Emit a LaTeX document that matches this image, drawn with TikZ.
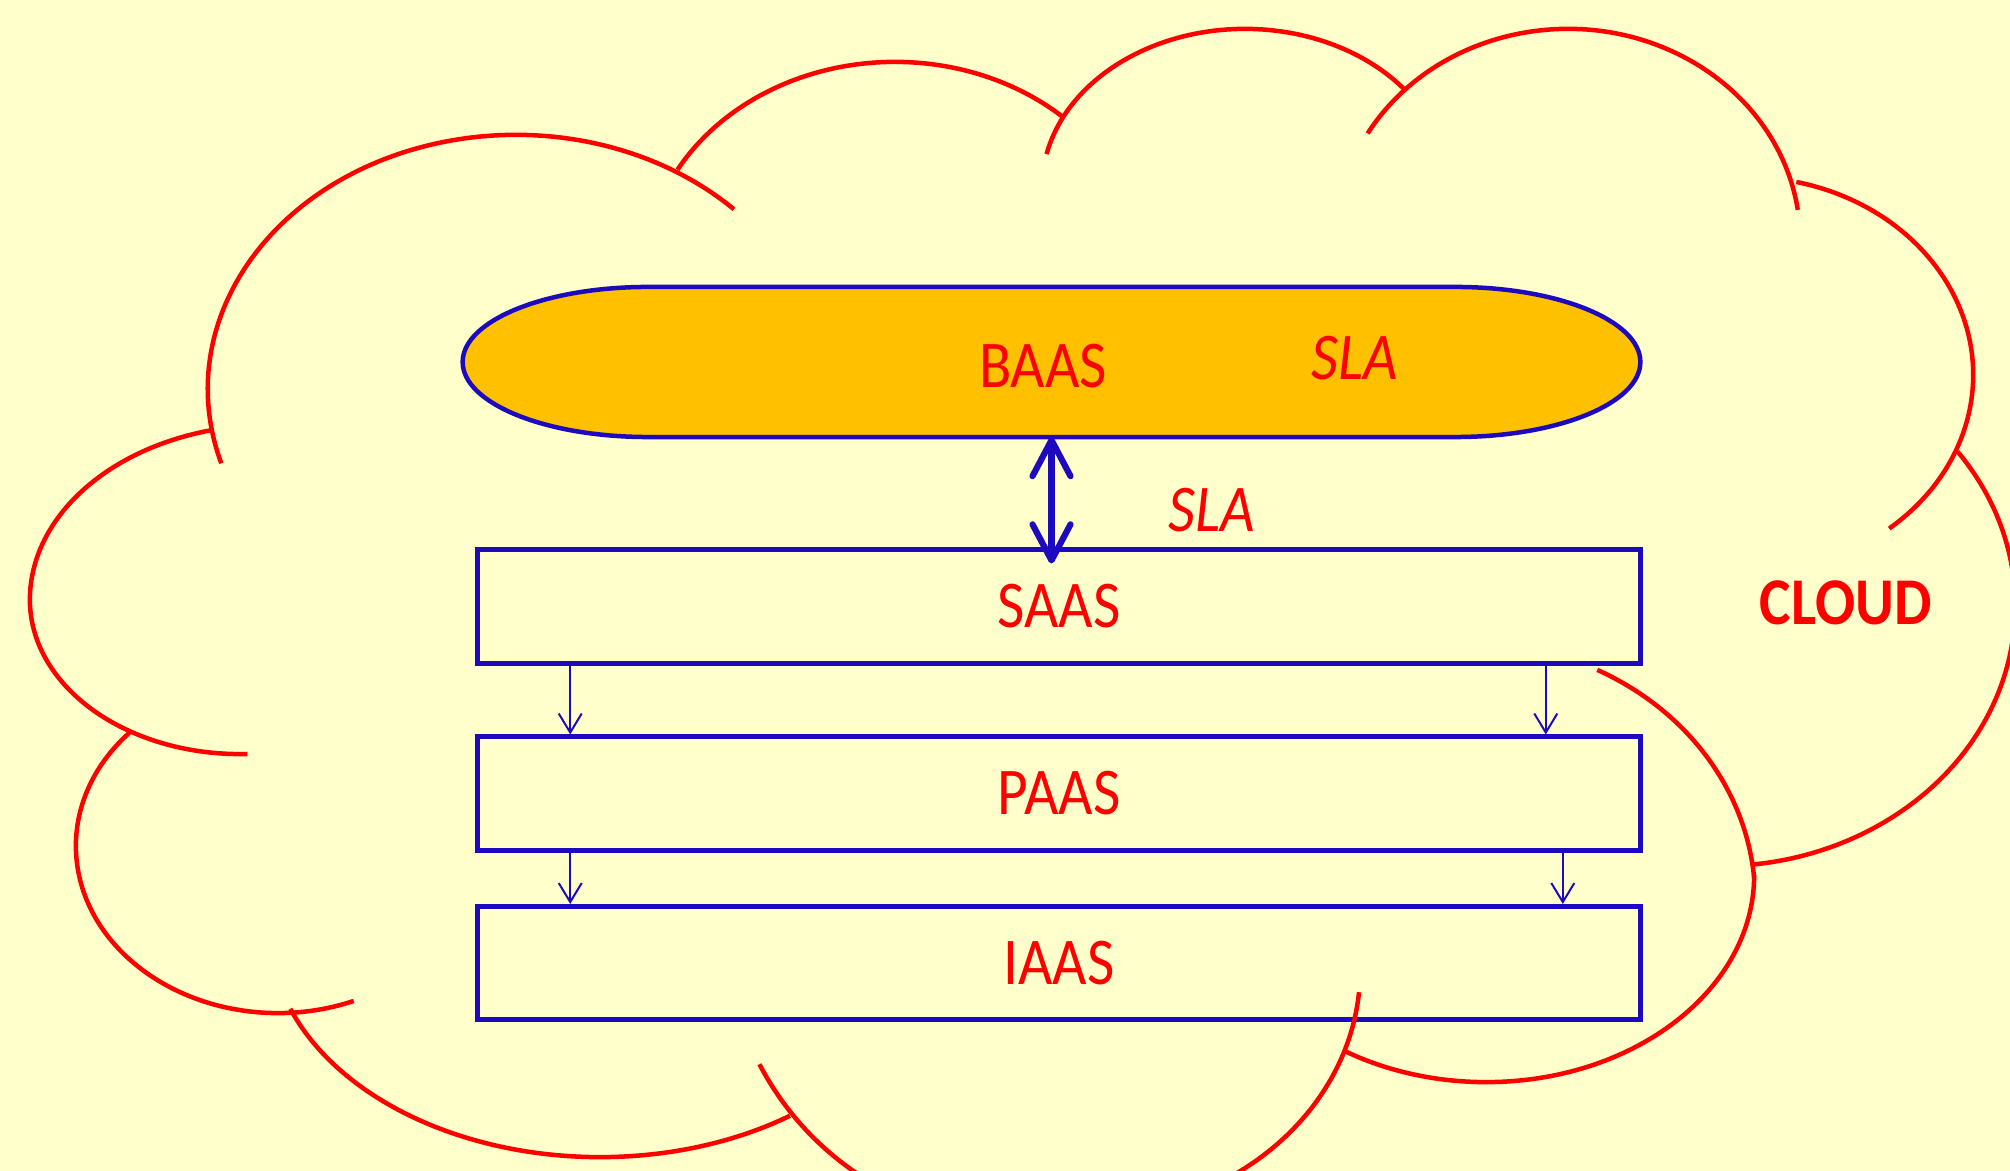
\documentclass[tikz,border=0pt]{standalone}
\usepackage{fontspec}
\usepackage{graphicx}
\setmainfont{Carlito}
\usetikzlibrary{arrows.meta}
\definecolor{bgc}{RGB}{255,255,204}
\definecolor{bl}{RGB}{30,10,190}
\definecolor{orng}{RGB}{255,192,0}
\newcommand\sq[1]{\scalebox{0.89}[1]{#1}}
% cloud arc: centre x, centre y (pixels, y down), x radius (cm), y radius (cm), start angle, end angle
\newcommand\carc[6]{\draw[cloudline] ([shift={(#1,#2)}]#5:#3cm and #4cm) arc[start angle=#5,end angle=#6,x radius=#3cm,y radius=#4cm];}
\begin{document}
\begin{tikzpicture}[x=0.01cm,y=-0.01cm,
  cloudline/.style={draw=red,line width=0.045cm},
  layerbox/.style={draw=bl,line width=0.05cm,minimum width=11.62cm,minimum height=1.13cm,inner sep=0pt,
    text=red,font=\fontsize{19pt}{22pt}\selectfont},
  baasshape/.style={draw=bl,fill=orng,line width=0.045cm,line join=round},
  lbl/.style={text=red,font=\fontsize{19pt}{22pt}\selectfont,inner sep=0pt,anchor=base},
  bigarrow/.style={draw=bl,line width=0.062cm,line cap=round,
    {Straight Barb[length=0.36cm,width=0.38cm,round]}-{Straight Barb[length=0.36cm,width=0.38cm,round]}},
  smallarrow/.style={draw=bl,line width=0.02cm,-{Straight Barb[length=0.19cm,width=0.23cm]}}]
\useasboundingbox (0,0) rectangle (2010,1171);
\fill[bgc] (0,0) rectangle (2010,1171);

% BAAS stadium
\node[inner sep=0pt,outer sep=0pt,minimum width=11.77cm,minimum height=1.5cm] (baas) at (1051.5,362) {};
\draw[baasshape] ([xshift=1.85cm]baas.north west) -- ([xshift=-1.85cm]baas.north east)
  arc[start angle=90,end angle=-90,x radius=1.85cm,y radius=0.75cm]
  -- ([xshift=1.85cm]baas.south west)
  arc[start angle=270,end angle=90,x radius=1.85cm,y radius=0.75cm] -- cycle;

% layers
\node[layerbox] (saas) at (1059,606.5) {\sq{SAAS}};
\node[layerbox] (paas) at (1059,793.5) {\sq{PAAS}};
\node[layerbox] (iaas) at (1059,963) {\sq{IAAS}};

% arrows
\draw[bigarrow] (baas.south) -- ([yshift=-0.16cm]baas.south |- saas.north);
\draw[smallarrow] ([xshift=0.95cm]saas.south west) -- ([xshift=0.95cm]paas.north west);
\draw[smallarrow] ([xshift=-0.97cm]saas.south east) -- ([xshift=-0.97cm]paas.north east);
\draw[smallarrow] ([xshift=0.95cm]paas.south west) -- ([xshift=0.95cm]iaas.north west);
\draw[smallarrow] ([xshift=-0.80cm]paas.south east) -- ([xshift=-0.80cm]iaas.north east);

% cloud
\begin{scope}
\clip (0,0) rectangle (2010,1171);
\carc{516}{389}{3.08}{2.54}{197}{45}
\carc{895}{275}{2.50}{2.13}{150.4}{47.6}
\carc{1245}{188}{2.03}{1.59}{167.7}{37.5}
\carc{1568}{240}{2.32}{2.11}{149.7}{8.2}
\carc{1745}{375}{2.28}{1.98}{77}{-50.8}
\carc{1720}{606}{2.95}{2.60}{36.4}{-83.8}
\carc{1470}{900}{2.85}{2.57}{63.5}{5}
\carc{1486}{875}{2.68}{2.07}{0}{-122}
\carc{1080}{970}{2.80}{2.45}{-5.2}{-70}
\carc{1023}{927}{2.97}{2.97}{-152.5}{-110}
\carc{600}{930}{3.30}{2.27}{-54.9}{-159.7}
\carc{278}{846}{2.02}{1.67}{137.4}{292}
\carc{270}{600}{2.40}{1.75}{104.3}{180}
\carc{240}{600}{2.10}{1.54}{180}{272}
\end{scope}

% labels
\node[lbl] (baaslbl) at (1043,388) {\sq{BAAS}};
\node[lbl] (slatop) at (1355,380) {\itshape\sq{SLA}};
\node[lbl] (slamid) at (1212,532) {\itshape\sq{SLA}};
\node[lbl] (cloudlbl) at (1846,625) {\bfseries\sq{CLOUD}};
\end{tikzpicture}
\end{document}
